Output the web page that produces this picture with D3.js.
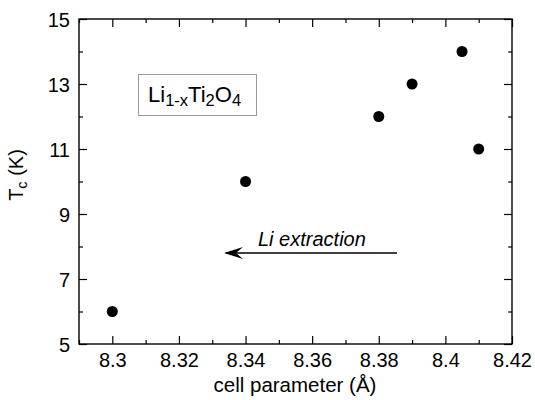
<!DOCTYPE html>
<html><head><meta charset="utf-8">
<script src="https://cdn.jsdelivr.net/npm/d3@7"></script>
<style>body{margin:0;background:#fff;} text{font-family:"Liberation Sans",Arial,Helvetica,sans-serif;}</style>
</head><body><svg id="c" width="535" height="400"></svg>
<script>
const cellParam = [8.30, 8.34, 8.38, 8.39, 8.405, 8.41];
const tc = [6, 10, 12, 13, 14, 11];
const xMajorTicks = [8.3, 8.32, 8.34, 8.36, 8.38, 8.4, 8.42];
const xMinorTicks = [8.29, 8.31, 8.33, 8.35, 8.37, 8.39, 8.41];
const yMajorTicks = [5, 7, 9, 11, 13, 15];
const yMinorTicks = [6, 8, 10, 12, 14];

const svg = d3.select("#c");
const L = 79, R = 512, T = 19, B = 344;
const x = d3.scaleLinear().domain([8.29, 8.42]).range([L, R]);
const y = d3.scaleLinear().domain([5, 15]).range([B, T]);

function axes(gen, tr, vals, size, labels) {
  const g = svg.append("g").attr("transform", tr)
    .call(gen.tickValues(vals).tickSize(size).tickSizeOuter(0)
      .tickFormat(labels ? d => String(+d.toFixed(2)) : ""));
  g.select(".domain").remove();
  g.selectAll("line").attr("stroke", "#000").attr("stroke-width", 1.2);
  return g;
}
// bottom
const gb = axes(d3.axisBottom(x), `translate(0,${B})`, xMajorTicks, -8, true);
gb.selectAll("text").attr("y", 23).attr("dy", null).attr("font-size", 20).attr("fill", "#000");
axes(d3.axisBottom(x), `translate(0,${B})`, xMinorTicks, -4, false);
// top
axes(d3.axisTop(x), `translate(0,${T})`, xMajorTicks, -8, false);
axes(d3.axisTop(x), `translate(0,${T})`, xMinorTicks, -4, false);
// left
const gl = axes(d3.axisLeft(y), `translate(${L},0)`, yMajorTicks, -8, true);
gl.selectAll("text").attr("x", -9).attr("dy", "0.36em").attr("font-size", 20).attr("fill", "#000");
axes(d3.axisLeft(y), `translate(${L},0)`, yMinorTicks, -4, false);
// right
axes(d3.axisRight(y), `translate(${R},0)`, yMajorTicks, -8, false);
axes(d3.axisRight(y), `translate(${R},0)`, yMinorTicks, -4, false);

svg.append("rect").attr("x", L).attr("y", T).attr("width", R - L).attr("height", B - T)
  .attr("fill", "none").attr("stroke", "#000").attr("stroke-width", 1.4);

// points
svg.append("g").selectAll("circle").data(cellParam).join("circle")
  .attr("cx", d => x(d)).attr("cy", (d, i) => y(tc[i])).attr("r", 5.5).attr("fill", "#000");

// axis labels
svg.append("text").attr("x", 295).attr("y", 392).attr("text-anchor", "middle")
  .attr("font-size", 20.5).text("cell parameter (Å)");
const yl = svg.append("text").attr("transform", "translate(23,175) rotate(-90)")
  .attr("text-anchor", "middle").attr("font-size", 20);
yl.append("tspan").text("T");
yl.append("tspan").attr("font-size", 14.5).attr("dy", 4).text("c");
yl.append("tspan").attr("dy", -4).text(" (K)");

// legend box
svg.append("rect").attr("x", 138.5).attr("y", 74.5).attr("width", 118).attr("height", 41)
  .attr("fill", "none").attr("stroke", "#999").attr("stroke-width", 1);
const lt = svg.append("text").attr("x", 148).attr("y", 102).attr("font-size", 22);
lt.append("tspan").text("Li");
lt.append("tspan").attr("font-size", 16.5).attr("dy", 4).text("1-x");
lt.append("tspan").attr("dy", -4).text("Ti");
lt.append("tspan").attr("font-size", 16.5).attr("dy", 4).text("2");
lt.append("tspan").attr("dy", -4).text("O");
lt.append("tspan").attr("font-size", 16.5).attr("dy", 4).text("4");

// arrow annotation
const ay = 253;
svg.append("line").attr("x1", 397).attr("x2", 226).attr("y1", ay).attr("y2", ay)
  .attr("stroke", "#000").attr("stroke-width", 1.3);
svg.append("path").attr("d", `M224,${ay} L243,${ay - 6} L236,${ay} L243,${ay + 6} Z`).attr("fill", "#000");
svg.append("text").attr("x", 258).attr("y", 246)
  .attr("font-size", 20).attr("font-style", "italic").text("Li extraction");
</script></body></html>
